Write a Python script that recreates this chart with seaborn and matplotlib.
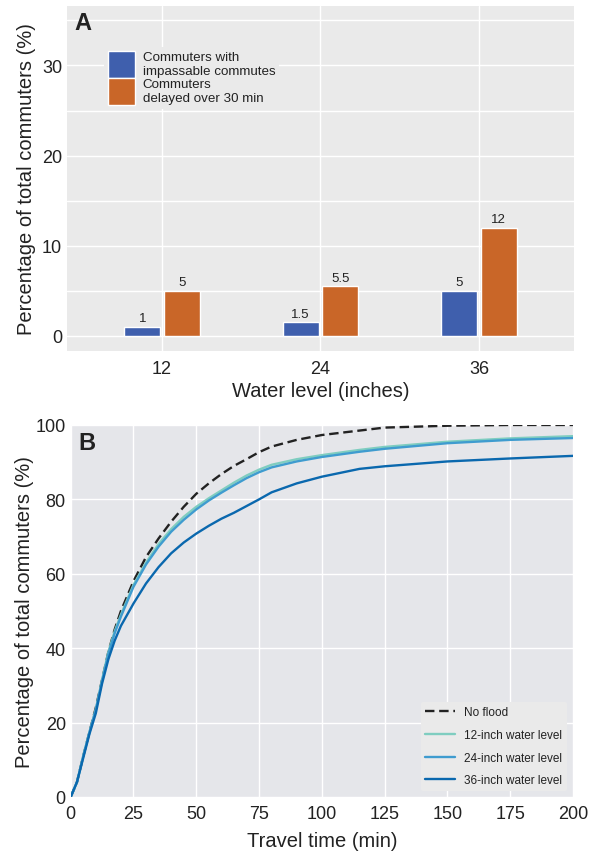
import matplotlib
matplotlib.use("Agg")
import matplotlib.pyplot as plt
from matplotlib.ticker import MultipleLocator
import numpy as np
import pandas as pd
import seaborn as sns

# panel A data
water_levels = ["12", "24", "36"]
impassable = [1, 1.5, 5]
delayed = [5, 5.5, 12]
bar_labels = ["Commuters with\nimpassable commutes", "Commuters\ndelayed over 30 min"]

# panel B data (cumulative % of commuters vs travel time)
travel_time = [0, 2.5, 5, 7.5, 10, 12.5, 15, 17.5, 20, 25, 30, 35, 40, 45, 50, 55, 60, 65, 70, 75,
               80, 90, 100, 115, 125, 150, 175, 200]
no_flood = [0, 4, 11, 17.5, 24, 31.5, 39, 45, 50, 58, 64.5, 69.5, 74, 78, 81.5, 84.3, 86.8, 89, 90.8, 92.7,
            94.2, 96, 97.3, 98.5, 99.3, 99.8, 100, 100]
level_12 = [0, 4, 11, 17.5, 23.5, 31.5, 39, 44.5, 49, 57, 63, 68, 72, 75.3, 78, 80.3, 82.4, 84.5, 86.4, 88,
            89.3, 90.8, 91.9, 93.3, 94.1, 95.5, 96.4, 97]
level_24 = [0, 4, 11, 17.5, 23.5, 31.2, 38.5, 44, 48.5, 56.5, 62.5, 67.3, 71.3, 74.5, 77.3, 79.7, 81.8, 83.8, 85.7, 87.3,
            88.6, 90.2, 91.4, 92.8, 93.6, 95.1, 96, 96.5]
level_36 = [0, 4, 10.5, 17, 22.5, 30.5, 37, 42, 46, 52, 57.4, 61.8, 65.5, 68.4, 70.8, 72.9, 74.8, 76.4, 78.2, 80,
            81.9, 84.3, 86.1, 88.2, 88.9, 90.2, 91, 91.7]

sns.set_theme(style="darkgrid")
plt.rcParams['font.family'] = ['Liberation Sans', 'DejaVu Sans']
plt.rcParams['text.color'] = '#222222'
plt.rcParams['axes.labelcolor'] = '#222222'
plt.rcParams['xtick.color'] = '#222222'
plt.rcParams['ytick.color'] = '#222222'

fig = plt.figure(figsize=(5.94, 8.53), dpi=100)
axA = fig.add_axes([0.1128, 0.5873, 0.8535, 0.4045])
axB = fig.add_axes([0.119, 0.0645, 0.8456, 0.4361])

# ---- panel A
bar_df = pd.DataFrame({
    "level": water_levels * 2,
    "pct": impassable + delayed,
    "kind": [bar_labels[0]] * 3 + [bar_labels[1]] * 3,
})
axA.set_facecolor("#EAEAEA")
sns.barplot(data=bar_df, x="level", y="pct", hue="kind", ax=axA,
            palette=["#3F5FAD", "#C96628"], width=0.5, gap=0.1, saturation=1)
for c in axA.containers:
    axA.bar_label(c, fmt="%g", padding=2, fontsize=9.5, color="#222222")
axA.set_xlim(-0.6, 2.6)
axA.set_ylim(-1.67, 36.6)
axA.set_yticks([0, 10, 20, 30])
axA.yaxis.set_minor_locator(MultipleLocator(5))
axA.grid(which="minor", axis="y", color="white", lw=1)
axA.grid(which="major", color="white", lw=1)
axA.tick_params(which="both", length=0, labelsize=13)
axA.tick_params(axis="x", pad=6.5)
axA.set_xlabel("Water level (inches)", fontsize=14.5, labelpad=2.5)
axA.set_ylabel("Percentage of total commuters (%)", fontsize=14.5)
axA.yaxis.set_label_coords(-0.061, 0.5)
axA.legend(loc="upper left", bbox_to_anchor=(0.06, 0.9), fontsize=9.6,
           handlelength=2.0, handleheight=2.7, labelspacing=0, handletextpad=0.6,
           frameon=True, facecolor="#EAEAEA", edgecolor="none", framealpha=1,
           borderpad=0.3)
axA.text(0.015, 0.985, "A", transform=axA.transAxes, fontsize=17, fontweight="bold",
         va="top", ha="left", color="#222222")
for s in axA.spines.values():
    s.set_visible(False)

# ---- panel B
axB.set_facecolor("#E5E6EA")
series = [
    ("No flood", no_flood, "#222222", (0, (4, 2))),
    ("12-inch water level", level_12, "#7FCDC0", "-"),
    ("24-inch water level", level_24, "#3F9CCF", "-"),
    ("36-inch water level", level_36, "#0A68AE", "-"),
]
for name, vals, col, ls in series:
    d = pd.DataFrame({"t": travel_time, "pct": vals})
    sns.lineplot(data=d, x="t", y="pct", ax=axB, color=col, linestyle=ls, lw=1.7, label=name)
axB.set_xlim(0, 200)
axB.set_ylim(0, 100)
axB.set_xticks(np.arange(0, 201, 25))
axB.set_yticks(np.arange(0, 101, 20))
axB.grid(color="white", lw=1)
axB.tick_params(length=0, labelsize=13)
axB.tick_params(axis="x", pad=6)
axB.set_xlabel("Travel time (min)", fontsize=14.5, labelpad=6)
axB.set_ylabel("Percentage of total commuters (%)", fontsize=14.5)
axB.yaxis.set_label_coords(-0.074, 0.5)
axB.legend(loc="lower right", fontsize=8.5, handlelength=2.5, labelspacing=0.9,
           frameon=True, facecolor="#EAEAEA", edgecolor="none", framealpha=1,
           borderaxespad=0.5)
axB.text(0.015, 0.985, "B", transform=axB.transAxes, fontsize=17, fontweight="bold",
         va="top", ha="left", color="#222222")
for s in axB.spines.values():
    s.set_visible(False)

fig.savefig("out.png", dpi=100)
